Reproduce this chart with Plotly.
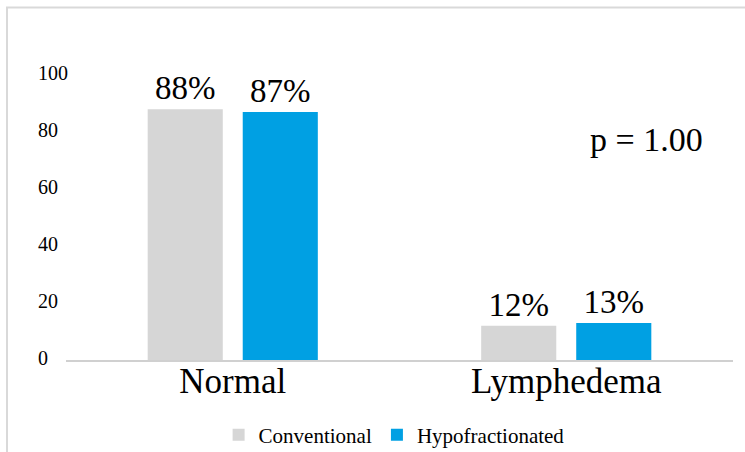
import plotly.graph_objects as go

categories = ["Normal", "Lymphedema"]
conventional = [88, 12]
hypofractionated = [87, 13]
series_names = ["Conventional", "Hypofractionated"]
y_ticks = [0, 20, 40, 60, 80, 100]
p_text = "p = 1.00"

W, H = 745, 452
FONT = "Liberation Serif, Times New Roman, serif"
NB = "\u00a0"

# left-aligned look for tick labels: pad shorter labels on the right
y_ticktext = [str(v) + NB * (2 * (3 - len(str(v)))) for v in y_ticks]

fig = go.Figure()
fig.add_trace(go.Bar(
    x=categories, y=conventional, name=series_names[0],
    marker=dict(color="#D6D6D6", line=dict(width=0)),
    texttemplate="%{y}%", textposition="outside",
    textfont=dict(family=FONT, size=33, color="black"),
    cliponaxis=False,
))
fig.add_trace(go.Bar(
    x=categories, y=hypofractionated, name=series_names[1],
    marker=dict(color="#00A0E3", line=dict(width=0)),
    texttemplate="%{y}%", textposition="outside",
    textfont=dict(family=FONT, size=33, color="black"),
    cliponaxis=False,
))

fig.update_layout(
    width=W, height=H,
    margin=dict(l=0, r=0, t=0, b=0, autoexpand=False),
    paper_bgcolor="white", plot_bgcolor="white",
    barmode="group", bargap=0.43, bargroupgap=0.21,
    font=dict(family=FONT, color="black"),
    showlegend=True,
    legend=dict(
        orientation="h", x=0.529, xanchor="center",
        y=(H - 435) / H, yanchor="middle",
        font=dict(family=FONT, size=21, color="black"),
        bgcolor="rgba(0,0,0,0)", itemwidth=30,
    ),
    xaxis=dict(
        domain=[66 / W, 733 / W],
        automargin=False,
        showline=True, linecolor="#D0D0D0", linewidth=1.5,
        showgrid=False, ticks="", zeroline=False,
        tickfont=dict(family=FONT, size=35, color="black"),
        ticklabelstandoff=-11,
    ),
    yaxis=dict(
        domain=[(H - 360) / H, (H - 75) / H],
        range=[0, 100],
        automargin=False,
        anchor="free", position=68 / W,
        tickvals=y_ticks, ticktext=y_ticktext,
        showgrid=False, showline=False, zeroline=False, ticks="",
        tickfont=dict(family=FONT, size=20, color="black"),
        ticklabelshift=-2, ticklabelstandoff=0,
    ),
    shapes=[dict(
        type="rect", xref="paper", yref="paper",
        x0=7 / W, x1=1.02, y0=-0.02, y1=(H - 7.5) / H,
        line=dict(color="#D9D9D9", width=2), fillcolor="rgba(0,0,0,0)",
        layer="below",
    )],
    annotations=[dict(
        text=p_text, xref="paper", yref="paper",
        x=646 / W, y=(H - 139) / H, xanchor="center", yanchor="middle",
        showarrow=False, font=dict(family=FONT, size=34, color="black"),
    )],
)

fig.write_html(
    "out.html",
    config={"displayModeBar": False},
    post_script="document.body.style.margin='0';document.body.style.overflow='hidden';",
)
